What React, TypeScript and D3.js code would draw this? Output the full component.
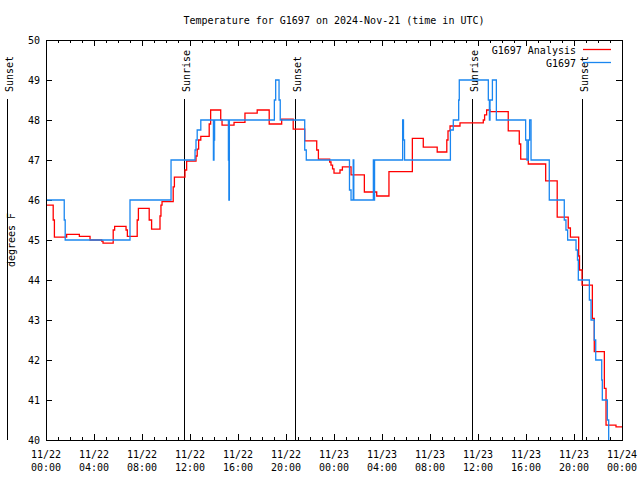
import React from "react";
import * as d3 from "d3";

// Hours since 2024-11-22 00:00 UTC
const redT = [0, 0.6, 0.7, 1.72, 2.78, 3.67, 4.64, 4.75, 5.6, 5.72, 6.67, 6.78, 7.6, 7.7, 8.6, 8.8, 9.5, 9.58, 9.67, 10.6, 10.7, 11.58, 11.72, 12.5, 12.6, 12.72, 12.9, 13.6, 13.72, 14.56, 14.67, 15.67, 16.58, 17.6, 18.6, 19.64, 20.6, 21.56, 22.56, 22.7, 23.64, 23.75, 23.88, 24.0, 24.5, 24.7, 25.42, 26.53, 27.56, 28.58, 30.53, 31.44, 32.6, 33.4, 33.5, 33.67, 34.5, 36.44, 36.55, 36.72, 37.0, 38.52, 39.44, 39.56, 40.19, 41.64, 42.6, 43.52, 43.7, 44.39, 44.46, 44.67, 45.53, 45.69, 46.53, 46.67, 47.5];
const redV = [45.87, 45.5, 45.07, 45.14, 45.09, 45.0, 44.97, 44.92, 45.25, 45.34, 45.25, 45.09, 45.5, 45.79, 45.5, 45.27, 45.6, 45.87, 45.96, 46.33, 46.57, 46.75, 46.97, 47.1, 47.27, 47.5, 47.59, 47.9, 48.25, 48.0, 47.87, 47.94, 48.17, 48.25, 47.9, 48.02, 47.77, 47.48, 47.25, 47.02, 46.95, 46.87, 46.78, 46.67, 46.75, 46.83, 46.63, 46.2, 46.1, 46.71, 47.54, 47.32, 47.2, 47.5, 47.73, 47.85, 47.93, 48.0, 48.13, 48.25, 48.21, 47.73, 47.4, 47.02, 46.9, 46.48, 45.57, 45.3, 45.07, 44.6, 44.25, 43.87, 43.04, 42.21, 41.29, 40.37, 40.33];

const blueT = [0, 1.52, 1.6, 7.0, 10.42, 12.42, 12.5, 12.6, 12.9, 13.95, 14.0, 14.05, 15.2, 15.24, 15.28, 19.03, 19.14, 19.42, 19.52, 21.56, 21.69, 25.29, 25.42, 25.6, 25.65, 27.28, 27.32, 27.38, 29.72, 29.79, 29.88, 33.7, 33.94, 34.39, 34.44, 36.86, 36.95, 37.0, 37.2, 37.53, 39.97, 40.08, 40.2, 40.3, 40.42, 41.94, 43.19, 43.33, 43.47, 44.17, 44.29, 44.36, 45.28, 45.42, 45.69, 45.81, 46.31, 46.36, 46.78, 46.89];
const blueV = [46, 45.5, 45, 46, 47, 47.25, 47.5, 47.75, 48, 47, 47.5, 48, 47, 46, 48, 48.5, 49, 48.5, 48, 47.25, 47, 46.25, 46, 47, 46, 47, 46, 47, 48, 47.5, 47, 47.75, 48, 48.5, 49, 48.5, 48, 48.5, 49, 48, 47.5, 47, 47.5, 48, 47, 46, 45.5, 45.25, 45, 44.75, 44.5, 44, 43.5, 43, 42.5, 42, 41.5, 41, 40.5, 39.5];

const sunEvents = [
  { t: -3.25, label: "Sunset" },
  { t: 11.5, label: "Sunrise" },
  { t: 20.75, label: "Sunset" },
  { t: 35.52, label: "Sunrise" },
  { t: 44.67, label: "Sunset" },
];

const yTicks = [40, 41, 42, 43, 44, 45, 46, 47, 48, 49, 50];
const startMs = Date.UTC(2024, 10, 22, 0, 0);
const title = "Temperature for G1697 on 2024-Nov-21 (time in UTC)";
const yLabel = "degrees F";
const seriesNames = ["G1697 Analysis", "G1697"];
const colors = ["#ff0000", "#1a86f0"];

const L = 46, R = 622, T = 40, B = 440;
const FONT = "DejaVu Sans Mono";

export default function App() {
  const x = d3.scaleLinear().domain([0, 48]).range([L, R]);
  const y = d3.scaleLinear().domain([40, 50]).range([B, T]);
  const line = d3
    .line<[number, number]>()
    .x((d) => x(d[0]))
    .y((d) => y(d[1]))
    .curve(d3.curveStepAfter);
  const toPts = (ts: number[], vs: number[]): [number, number][] => {
    const p = ts.map((t, i) => [t, vs[i]] as [number, number]);
    p.push([48, vs[vs.length - 1]]);
    return p;
  };
  const redPath = line(toPts(redT, redV)) || "";
  const bluePath = line(toPts(blueT, blueV)) || "";
  const fmtD = d3.utcFormat("%m/%d");
  const fmtH = d3.utcFormat("%H:%M");
  const hours = d3.range(0, 49, 1);

  return (
    <svg
      width={640}
      height={480}
      style={{ position: "absolute", left: 0, top: 0, background: "#fff" }}
      fontFamily={FONT}
      fontSize={10}
    >
      <defs>
        <clipPath id="plotclip">
          <rect x={L} y={T} width={R - L} height={B - T} />
        </clipPath>
      </defs>
      <rect x={0} y={0} width={640} height={480} fill="#fff" />
      <text x={(L + R) / 2} y={24} textAnchor="middle">{title}</text>

      {/* x ticks */}
      <g stroke="#000" shapeRendering="crispEdges">
        {hours.map((h) => {
          const len = h % 4 === 0 ? 6 : 3;
          const xx = Math.round(x(h)) + 0.5;
          return (
            <g key={h}>
              <line x1={xx} x2={xx} y1={B} y2={B - len} />
              <line x1={xx} x2={xx} y1={T} y2={T + len} />
            </g>
          );
        })}
        {yTicks.map((v) => {
          const yy = Math.round(y(v)) + 0.5;
          return (
            <g key={v}>
              <line x1={L} x2={L + 6} y1={yy} y2={yy} />
              <line x1={R - 6} x2={R} y1={yy} y2={yy} />
            </g>
          );
        })}
      </g>

      {/* x tick labels */}
      {hours.filter((h) => h % 4 === 0).map((h) => {
        const d = new Date(startMs + h * 3600e3);
        return (
          <g key={h}>
            <text x={x(h)} y={458} textAnchor="middle">{fmtD(d)}</text>
            <text x={x(h)} y={471} textAnchor="middle">{fmtH(d)}</text>
          </g>
        );
      })}

      {/* y tick labels */}
      {yTicks.map((v) => (
        <text key={v} x={40} y={y(v)} dy="0.35em" textAnchor="end">{v}</text>
      ))}

      <text transform={`translate(11,240) rotate(-90)`} dy="0.35em" textAnchor="middle">{yLabel}</text>

      {/* sunrise / sunset */}
      {sunEvents.map((e, i) => {
        const xx = Math.round(x(e.t)) + 0.5;
        return (
          <g key={i}>
            <line x1={xx} x2={xx} y1={99} y2={B} stroke="#000" shapeRendering="crispEdges" />
            <text transform={`translate(${xx + 1.5},92) rotate(-90)`} dy="0.35em" textAnchor="start">{e.label}</text>
          </g>
        );
      })}

      {/* series */}
      <g clipPath="url(#plotclip)" fill="none" strokeWidth={1.3}>
        <path d={redPath} stroke={colors[0]} />
        <path d={bluePath} stroke={colors[1]} />
      </g>

      {/* frame */}
      <rect x={L + 0.5} y={T + 0.5} width={R - L} height={B - T} fill="none" stroke="#000" shapeRendering="crispEdges" />

      {/* legend */}
      {seriesNames.map((n, i) => (
        <g key={n}>
          <text x={576} y={50 + i * 13} dy="0.35em" textAnchor="end">{n}</text>
          <line x1={583} x2={611} y1={49.5 + i * 13} y2={49.5 + i * 13} stroke={colors[i]} strokeWidth={1.3} />
        </g>
      ))}
    </svg>
  );
}
